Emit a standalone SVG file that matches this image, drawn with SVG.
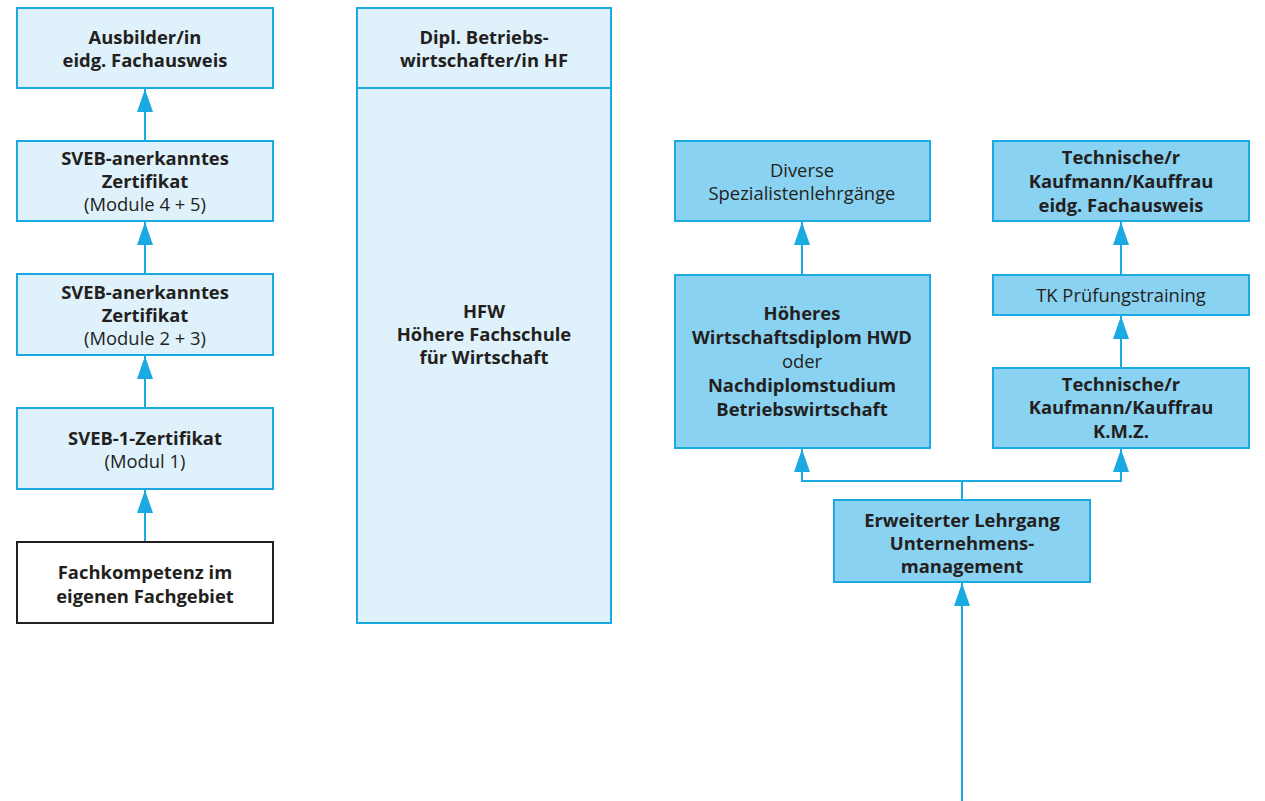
<svg xmlns="http://www.w3.org/2000/svg" width="1265" height="801" viewBox="0 0 1265 801">
<defs>
<style>
.l{fill:#dff1fb;stroke:#1ba9e1;stroke-width:2}
.d{fill:#8ad2f1;stroke:#1ba9e1;stroke-width:2}
.w{fill:#ffffff;stroke:#231f20;stroke-width:2}
text{font-family:"Open Sans","Noto Sans","Liberation Sans",sans-serif;font-size:18.4px;fill:#231f20;text-anchor:middle}
.b{font-weight:bold}
.c{fill:none;stroke:#1ba9e1;stroke-width:2}
</style>
<marker id="ah" markerWidth="23" markerHeight="16" refX="23" refY="8" orient="auto" markerUnits="userSpaceOnUse">
<path d="M0,0 L23,8 L0,16 Z" fill="#1ba9e1"/>
</marker>
</defs>
<g id="connectors">
<path class="c" d="M145,141 V89" marker-end="url(#ah)"/>
<path class="c" d="M145,274 V222" marker-end="url(#ah)"/>
<path class="c" d="M145,408 V356" marker-end="url(#ah)"/>
<path class="c" d="M145,542 V490" marker-end="url(#ah)"/>
<path class="c" d="M802,275 V222" marker-end="url(#ah)"/>
<path class="c" d="M1121,275 V222" marker-end="url(#ah)"/>
<path class="c" d="M1121,368 V316" marker-end="url(#ah)"/>
<path class="c" d="M962,500 V481 H802 V449" marker-end="url(#ah)"/>
<path class="c" d="M962,481 H1121 V449" marker-end="url(#ah)"/>
<path class="c" d="M962,801 V583" marker-end="url(#ah)"/>
</g>
<g id="ausbilder">
<rect class="l" x="17" y="8" width="256" height="80"/>
<text class="b" x="145" y="44">Ausbilder/in</text>
<text class="b" x="145" y="67">eidg. Fachausweis</text>
</g>
<g id="sveb45">
<rect class="l" x="17" y="141" width="256" height="80"/>
<text class="b" x="145" y="165">SVEB-anerkanntes</text>
<text class="b" x="145" y="188">Zertifikat</text>
<text x="145" y="211">(Module 4 + 5)</text>
</g>
<g id="sveb23">
<rect class="l" x="17" y="274" width="256" height="81"/>
<text class="b" x="145" y="299">SVEB-anerkanntes</text>
<text class="b" x="145" y="322">Zertifikat</text>
<text x="145" y="345">(Module 2 + 3)</text>
</g>
<g id="sveb1">
<rect class="l" x="17" y="408" width="256" height="81"/>
<text class="b" x="145" y="445">SVEB-1-Zertifikat</text>
<text x="145" y="468">(Modul 1)</text>
</g>
<g id="fachkompetenz">
<rect class="w" x="17" y="542" width="256" height="81"/>
<text class="b" x="145" y="579">Fachkompetenz im</text>
<text class="b" x="145" y="603">eigenen Fachgebiet</text>
</g>
<g id="hfw">
<rect class="l" x="357" y="8" width="254" height="615"/>
<line x1="357" y1="88" x2="611" y2="88" stroke="#1ba9e1" stroke-width="2"/>
<text class="b" x="484" y="44">Dipl. Betriebs-</text>
<text class="b" x="484" y="67">wirtschafter/in HF</text>
<text class="b" x="484" y="318">HFW</text>
<text class="b" x="484" y="341">Höhere Fachschule</text>
<text class="b" x="484" y="364">für Wirtschaft</text>
</g>
<g id="diverse">
<rect class="d" x="675" y="141" width="255" height="80"/>
<text x="802" y="177">Diverse</text>
<text x="802" y="200">Spezialistenlehrgänge</text>
</g>
<g id="hwd">
<rect class="d" x="675" y="275" width="255" height="173"/>
<text class="b" x="802" y="320">Höheres</text>
<text class="b" x="802" y="344">Wirtschaftsdiplom HWD</text>
<text x="802" y="368">oder</text>
<text class="b" x="802" y="392">Nachdiplomstudium</text>
<text class="b" x="802" y="416">Betriebswirtschaft</text>
</g>
<g id="tk-fachausweis">
<rect class="d" x="993" y="141" width="256" height="80"/>
<text class="b" x="1121" y="164">Technische/r</text>
<text class="b" x="1121" y="188">Kaufmann/Kauffrau</text>
<text class="b" x="1121" y="212">eidg. Fachausweis</text>
</g>
<g id="tk-pruefung">
<rect class="d" x="993" y="275" width="256" height="40"/>
<text x="1121" y="302">TK Prüfungstraining</text>
</g>
<g id="tk-kmz">
<rect class="d" x="993" y="368" width="256" height="80"/>
<text class="b" x="1121" y="391">Technische/r</text>
<text class="b" x="1121" y="414">Kaufmann/Kauffrau</text>
<text class="b" x="1121" y="438">K.M.Z.</text>
</g>
<g id="erweiterter">
<rect class="d" x="834" y="500" width="256" height="82"/>
<text class="b" x="962" y="527">Erweiterter Lehrgang</text>
<text class="b" x="962" y="550">Unternehmens-</text>
<text class="b" x="962" y="573">management</text>
</g>
</svg>
